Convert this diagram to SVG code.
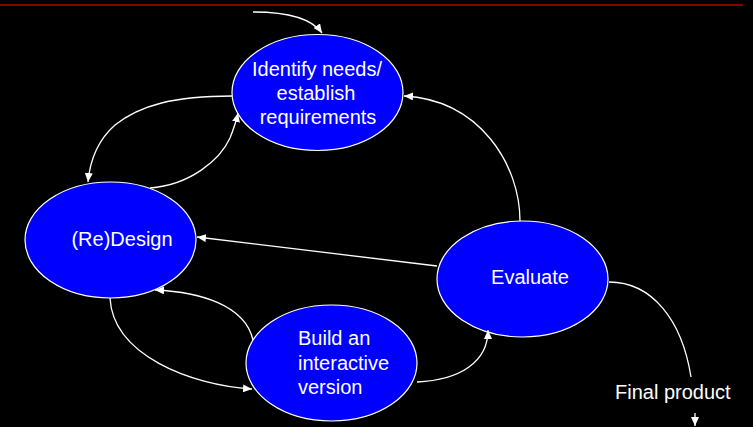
<svg xmlns="http://www.w3.org/2000/svg" width="753" height="427" viewBox="0 0 753 427">
<style>
.node ellipse{fill:#0000FF;stroke:#FFFFFF;stroke-width:1.2}
text{font-family:"Liberation Sans",Arial,sans-serif;font-size:20px;fill:#FFFFFF}
.conn path,.conn line{fill:none;stroke:#FFFFFF;stroke-width:1.3}
</style>
<defs>
<marker id="ah" markerUnits="userSpaceOnUse" markerWidth="10" markerHeight="8" refX="9" refY="4" orient="auto">
<path d="M0,0 L9,4 L0,8 Z" fill="#FFFFFF"/>
</marker>
</defs>
<rect width="753" height="427" fill="#000000"/>
<line x1="0" y1="5" x2="743" y2="5" stroke="#8B0000" stroke-width="2"/>
<g id="n-identify" class="node">
<ellipse cx="317.5" cy="92.5" rx="85.5" ry="58"/>
<text x="317" y="76" text-anchor="middle">Identify needs/</text>
<text x="316" y="100" text-anchor="middle">establish</text>
<text x="318" y="124" text-anchor="middle">requirements</text>
</g>
<g id="n-redesign" class="node">
<ellipse cx="110.5" cy="240" rx="85.5" ry="58"/>
<text x="122" y="246" text-anchor="middle">(Re)Design</text>
</g>
<g id="n-evaluate" class="node">
<ellipse cx="522.5" cy="279" rx="85.5" ry="58"/>
<text x="530" y="284" text-anchor="middle">Evaluate</text>
</g>
<g id="n-build" class="node">
<ellipse cx="331.5" cy="363" rx="85.5" ry="58"/>
<text x="298" y="345">Build an</text>
<text x="298" y="370">interactive</text>
<text x="298" y="394">version</text>
</g>
<g id="n-final">
<text x="615" y="399">Final product</text>
</g>
<g id="connectors" class="conn">
<path d="M253,12 C288,12 312,19 322,33" marker-end="url(#ah)"/>
<path d="M232,96 C175,96 140,105 115,125 C98,140 90,160 88,182" marker-end="url(#ah)"/>
<path d="M150,188 C190,185 220,160 230,138 C234,128 236,122 238,113" marker-end="url(#ah)"/>
<path d="M520,221 C520,165 480,100 404,96" marker-end="url(#ah)"/>
<line x1="437" y1="266" x2="197" y2="237" marker-end="url(#ah)"/>
<path d="M253,340 C245,305 200,292 155,290" marker-end="url(#ah)"/>
<path d="M110,298 C113,355 190,385 252,389" marker-end="url(#ah)"/>
<path d="M417,382 C460,380 488,362 488,330" marker-end="url(#ah)"/>
<path d="M609,282 C652,282 682,320 691,377"/>
<line x1="695" y1="413" x2="695" y2="426" marker-end="url(#ah)"/>
</g>
</svg>
